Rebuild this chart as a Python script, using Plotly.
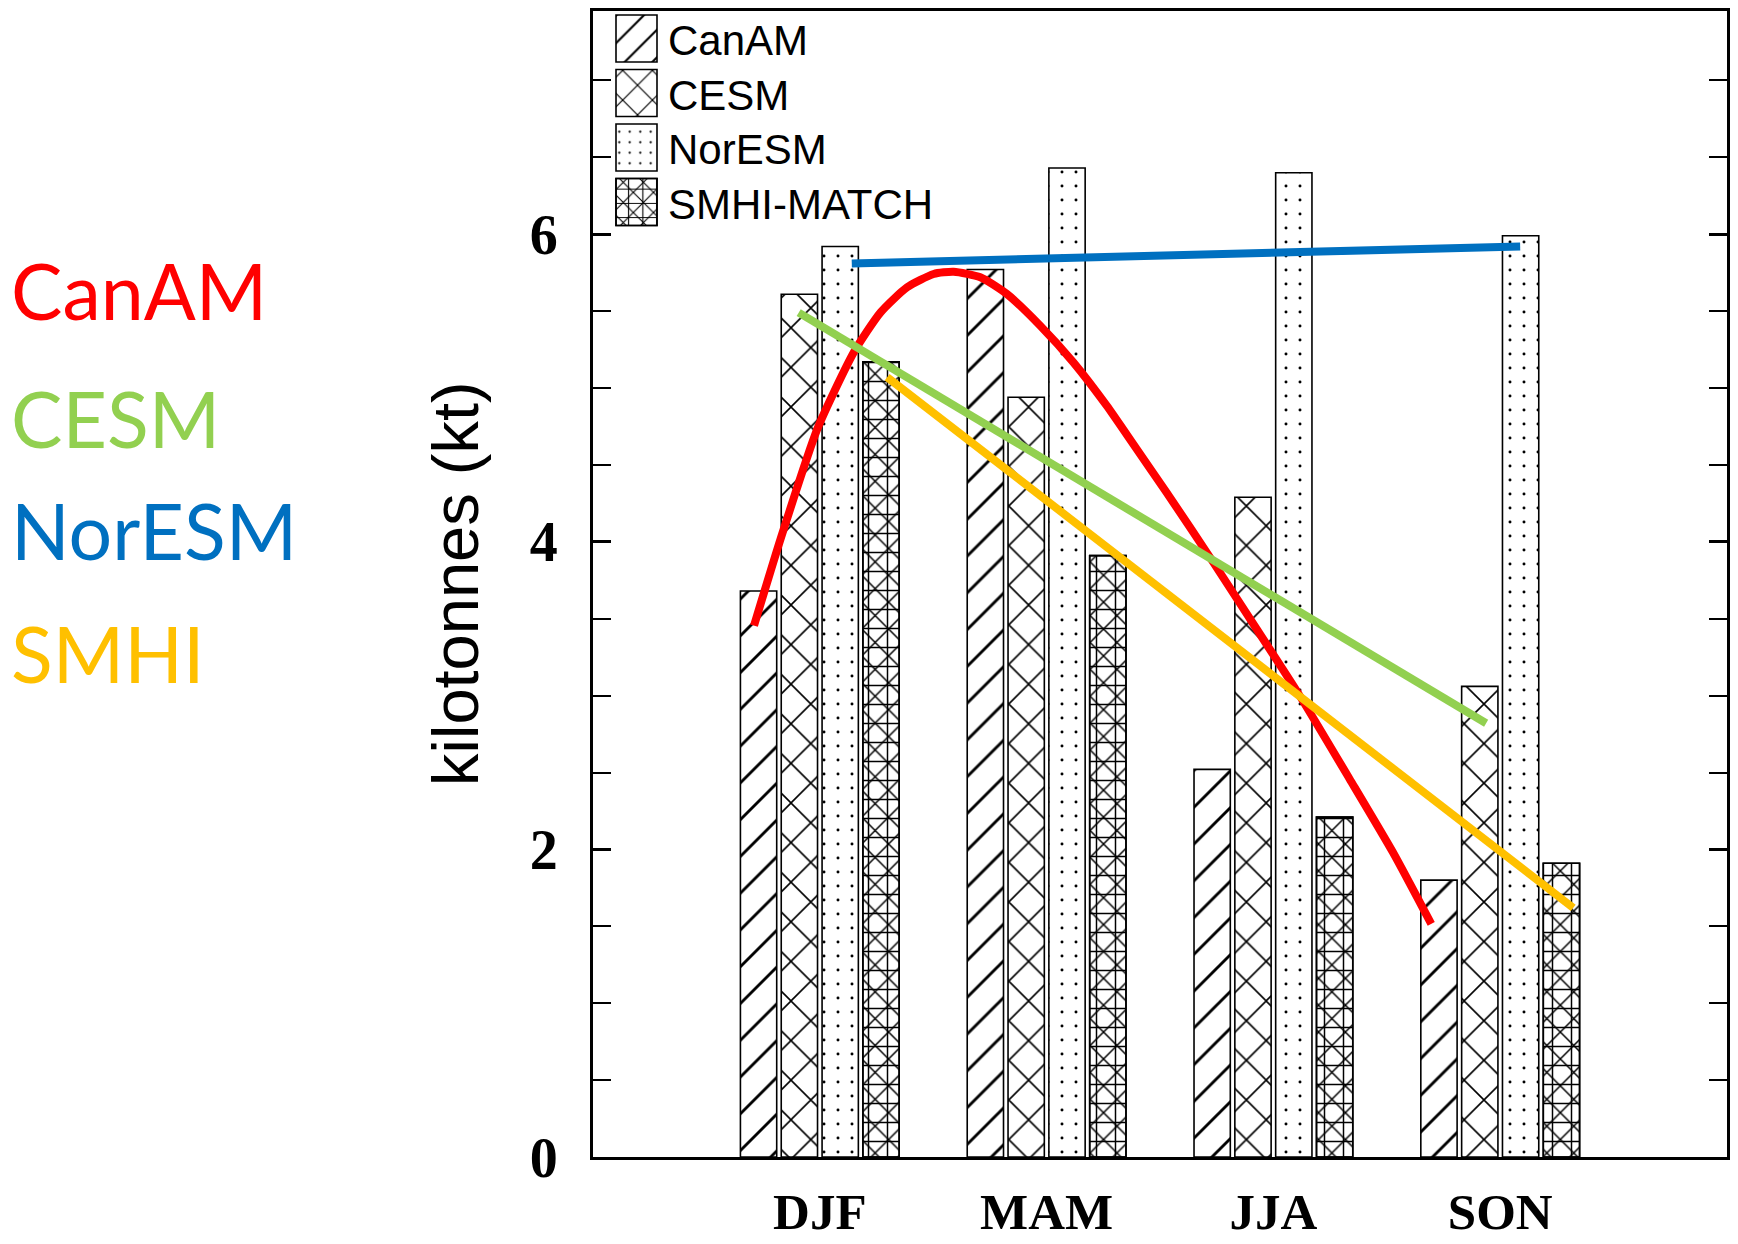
import plotly.graph_objects as go

# ---------------- data ----------------
seasons = ["DJF", "MAM", "JJA", "SON"]
season_pos = [1, 2, 3, 4]
models = ["CanAM", "CESM", "NorESM", "SMHI-MATCH"]
canam = [3.68, 5.77, 2.52, 1.80]
cesm = [5.61, 4.94, 4.29, 3.06]
noresm = [5.92, 6.43, 6.40, 5.99]
smhi = [5.17, 3.91, 2.21, 1.91]

# overlaid trend lines (data coords)
canam_line_x = [0.710, 0.827, 0.989, 1.150, 1.268, 1.385, 1.502, 1.590, 1.708, 1.825,
                1.972, 2.118, 2.265, 2.397, 2.529, 2.735, 2.926, 3.116, 3.336, 3.527, 3.696]
canam_line_y = [3.455, 4.018, 4.733, 5.232, 5.492, 5.655, 5.741, 5.756, 5.720, 5.611,
                5.405, 5.167, 4.885, 4.603, 4.321, 3.866, 3.433, 2.999, 2.458, 1.981, 1.515]
cesm_line_x = [0.907, 3.938]
cesm_line_y = [5.49, 2.82]
noresm_line_x = [1.141, 4.088]
noresm_line_y = [5.81, 5.92]
smhi_line_x = [1.297, 4.322]
smhi_line_y = [5.07, 1.62]

side_labels = ["CanAM", "CESM", "NorESM", "SMHI"]
side_colors = ["#FF0000", "#92D050", "#0070C0", "#FFC000"]

# ---------------- layout geometry (screen px; page body has an 8px margin) ----------------
OFF = 8
W, H = 1738 - OFF, 1244 - OFF
S_LEFT, S_RIGHT, S_TOP, S_BOTTOM = 593, 1727, 11, 1157   # plot area on screen
ML = S_LEFT - OFF
MR = W - (S_RIGHT - OFF)
MT = S_TOP - OFF
MB = H - (S_BOTTOM - OFF)
PW = W - ML - MR
PH = H - MT - MB
Y_SCALE = 153.8
y_top = (S_BOTTOM - S_TOP) / Y_SCALE

def px_x(p):
    return (p - S_LEFT) / PW

def px_y(p):
    return (S_BOTTOM - p) / PH

bar_w = 0.160
offsets = [-0.270, -0.090, 0.090, 0.270]

patterns = [
    [dict(shape="/", size=26, solidity=0.11)],
    [dict(shape="x", size=28, solidity=0.11)],
    [dict(shape=".", size=14, solidity=0.035)],
    [dict(shape="+", size=19, solidity=0.15), dict(shape="x", size=19, solidity=0.15)],
]
values = [canam, cesm, noresm, smhi]

fig = go.Figure()

for name, vals, pats, off in zip(models, values, patterns, offsets):
    for k, p in enumerate(pats):
        first = k == 0
        fig.add_trace(go.Bar(
            x=season_pos, y=vals, name=name, showlegend=False,
            width=bar_w, offset=off - bar_w / 2,
            marker=dict(
                color="white" if first else "rgba(0,0,0,0)",
                line=dict(color="black", width=1.6),
                pattern=dict(shape=p["shape"], size=p["size"], solidity=p["solidity"],
                             fgcolor="black",
                             bgcolor="white" if first else "rgba(0,0,0,0)",
                             fillmode="replace"),
            ),
        ))

lines = [
    (canam_line_x, canam_line_y, side_colors[0], "spline"),
    (cesm_line_x, cesm_line_y, side_colors[1], "linear"),
    (noresm_line_x, noresm_line_y, side_colors[2], "linear"),
    (smhi_line_x, smhi_line_y, side_colors[3], "linear"),
]
for lx, ly, col, shp in lines:
    fig.add_trace(go.Scatter(x=lx, y=ly, mode="lines", showlegend=False,
                             line=dict(color=col, width=8, shape=shp, smoothing=0.6)))

# ---------------- custom legend (pixel-unit overlay axes) ----------------
sw_left, sw_w, sw_h, sw_top0, sw_pitch = 616 - S_LEFT, 41, 47, 15 - S_TOP, 54.5
for i, (name, pats) in enumerate(zip(models, patterns)):
    for k, p in enumerate(pats):
        first = k == 0
        fig.add_trace(go.Bar(
            x=[sw_left + sw_w / 2], y=[sw_h], base=[sw_top0 + i * sw_pitch],
            width=[sw_w], xaxis="x2", yaxis="y2", showlegend=False, hoverinfo="skip",
            marker=dict(
                color="white" if first else "rgba(0,0,0,0)",
                line=dict(color="black", width=1.6),
                pattern=dict(shape=p["shape"], size=p["size"] * 0.75, solidity=p["solidity"],
                             fgcolor="black",
                             bgcolor="white" if first else "rgba(0,0,0,0)",
                             fillmode="replace"),
            ),
        ))
    fig.add_annotation(x=666 - S_LEFT, y=sw_top0 + i * sw_pitch + sw_h / 2 + 2,
                       xref="x2", yref="y2", text=name, showarrow=False,
                       xanchor="left", yanchor="middle",
                       font=dict(family="Liberation Sans", size=42, color="black"))

# ---------------- side coloured labels ----------------
side_y = [290, 418, 530, 653]
for lab, col, yy in zip(side_labels, side_colors, side_y):
    fig.add_annotation(x=px_x(8.5), y=px_y(yy), xref="paper", yref="paper",
                       text=lab, showarrow=False, xanchor="left", yanchor="middle",
                       font=dict(family="Lato", size=77, color=col))

# y-axis title
fig.add_annotation(x=px_x(455), y=px_y(584), xref="paper", yref="paper",
                   text="kilotonnes (kt)", textangle=-90, showarrow=False,
                   xanchor="center", yanchor="middle",
                   font=dict(family="Liberation Sans", size=65, color="black"))

fig.update_layout(
    width=W, height=H,
    margin=dict(l=ML, r=MR, t=MT, b=MB, pad=0, autoexpand=False),
    paper_bgcolor="white", plot_bgcolor="white",
    barmode="overlay",
    showlegend=False,
    xaxis=dict(range=[0, 5], tickvals=season_pos, ticktext=seasons, automargin=False,
               showgrid=False, zeroline=False, showline=True, linecolor="black",
               linewidth=3, mirror=True, ticks="",
               ticklabelstandoff=8,
               tickfont=dict(family="Liberation Serif", size=51, color="black", weight="bold")),
    yaxis=dict(range=[0, y_top], tick0=0, dtick=2, showgrid=False, zeroline=False, automargin=False,
               showline=True, linecolor="black", linewidth=3, mirror="ticks",
               ticks="inside", ticklen=18, tickwidth=3, tickcolor="black",
               ticklabelstandoff=21,
               minor=dict(dtick=0.5, tick0=0, ticks="inside", ticklen=18, tickwidth=1.5,
                          tickcolor="black", showgrid=False),
               tickfont=dict(family="Liberation Serif", size=56, color="black", weight="bold")),
    xaxis2=dict(range=[0, PW], overlaying="x", visible=False, anchor="y2"),
    yaxis2=dict(range=[PH, 0], overlaying="y", visible=False, anchor="x2"),
)

fig.write_html("out.html")
